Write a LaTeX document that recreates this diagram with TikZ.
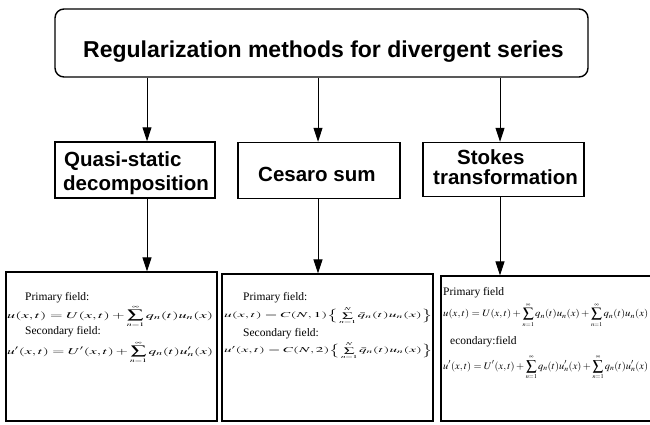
\documentclass[tikz,border=0pt]{standalone}
\usepackage{mathptmx}
\usepackage[no-math]{fontspec}
\setmainfont{Liberation Serif}
\newfontfamily\headfont{Liberation Sans}
\usepackage{graphicx}
\usetikzlibrary{arrows.meta}
\newcommand{\Ssum}[2]{\sum_{\scriptscriptstyle #1}^{\scriptscriptstyle #2}}
\newcommand{\Tsum}[2]{\mathop{\textstyle\sum}\limits_{\scriptscriptstyle #1}^{\scriptscriptstyle #2}}
\begin{document}
\begin{tikzpicture}[x=1pt,y=-1pt,
  titlebox/.style={draw, line width=1.4pt, rounded corners=9pt, inner sep=0pt},
  midbox/.style={draw, line width=1.4pt, inner sep=0pt},
  lowbox/.style={draw, line width=1.3pt, inner sep=0pt},
  heading/.style={font={\headfont\bfseries\fontsize{20.5}{24}\selectfont}, inner sep=0pt, anchor=base west},
  titletext/.style={font={\headfont\bfseries\fontsize{23}{26}\selectfont}, inner sep=0pt, anchor=base west},
  fieldlabel/.style={font={\fontsize{11.5}{13}\selectfont}, inner sep=0pt, anchor=base west},
  formula/.style={inner sep=0pt, anchor=base west},
  arrow/.style={line width=1pt, -{Triangle[length=14pt,width=9pt]}}
]
\useasboundingbox (0,0) rectangle (650,424);
\clip (0,0) rectangle (650,424);
\fill[white] (0,0) rectangle (650,424);

% top box
\node[titlebox, minimum width=533pt, minimum height=68pt] (top) at (321.5,43) {};
\node[titletext] (ttl) at (83,57.5) {Regularization methods for divergent series};

% middle boxes
\node[midbox, minimum width=160pt, minimum height=56pt] (q) at (135,170) {};
\node[heading] (q1) at (64,166.5) {Quasi-static};
\node[heading] (q2) at (63,190) {decomposition};

\node[midbox, minimum width=162pt, minimum height=56pt] (c) at (319,170.5) {};
\node[heading] (c1) at (258,181.7) {Cesaro sum};

\node[midbox, minimum width=161pt, minimum height=54pt] (s) at (503.5,169.5) {};
\node[heading] (s1) at (457,164.5) {Stokes};
\node[heading] (s2) at (433,184) {transformation};

% bottom boxes
\node[lowbox, minimum width=211pt, minimum height=149pt] (b1) at (111.5,346.5) {};
\node[lowbox, minimum width=211pt, minimum height=147pt] (b2) at (327.5,347.5) {};
\node[lowbox, minimum width=219pt, minimum height=145pt] (b3) at (550.5,348.5) {};

% box 1 content
\node[fieldlabel] (p1) at (25,300.7) {Primary field:};
\node[formula] (f11) at (7,318) {\resizebox*{206pt}{22pt}{$\displaystyle u(x,t)=U(x,t)+\Ssum{n=1}{\infty}q_n(t)u_n(x)$}};
\node[fieldlabel] (s1l) at (25,334) {Secondary field:};
\node[formula] (f12) at (7,354) {\resizebox*{206pt}{22pt}{$\displaystyle u'(x,t)=U'(x,t)+\Ssum{n=1}{\infty}q_n(t)u'_n(x)$}};

% box 2 content
\node[fieldlabel] (p2) at (243,300) {Primary field:};
\node[formula] (f21) at (224,317.5) {\resizebox*{208pt}{17pt}{$u(x,t)=C(N,1)\Big\{\Tsum{n=1}{N}\bar{q}_n(t)u_n(x)\Big\}$}};
\node[fieldlabel] (s2l) at (243,336.2) {Secondary field:};
\node[formula] (f22) at (224,352.5) {\resizebox*{208pt}{17pt}{$u'(x,t)=C(N,2)\Big\{\Tsum{n=1}{N}\bar{q}_n(t)u_n(x)\Big\}$}};

% box 3 content
\node[fieldlabel] (p3) at (443,295) {Primary field};
\node[formula] (f31) at (443,316.7) {\resizebox*{205pt}{24pt}{$\displaystyle u(x,t)=U(x,t)+\Ssum{n=1}{\infty}q_n(t)u_n(x)+\Ssum{n=1}{\infty}q_n(t)u_n(x)$}};
\node[fieldlabel] (s3l) at (450,344) {econdary:field};
\node[formula] (f32) at (443,369) {\resizebox*{205pt}{25pt}{$\displaystyle u'(x,t)=U'(x,t)+\Ssum{n=1}{\infty}q_n(t)u'_n(x)+\Ssum{n=1}{\infty}q_n(t)u'_n(x)$}};

% arrows
\coordinate (k1) at (147,0);
\coordinate (k2) at (318,0);
\coordinate (k3) at (500,0);
\draw[arrow] (top.south -| k1) -- (q.north -| k1);
\draw[arrow] (top.south -| k2) -- (c.north -| k2);
\draw[arrow] (top.south -| k3) -- (s.north -| k3);
\draw[arrow] (q.south -| k1) -- (b1.north -| k1);
\draw[arrow] (c.south -| k2) -- (b2.north -| k2);
\draw[arrow] (s.south -| k3) -- (b3.north -| k3);
\end{tikzpicture}
\end{document}
